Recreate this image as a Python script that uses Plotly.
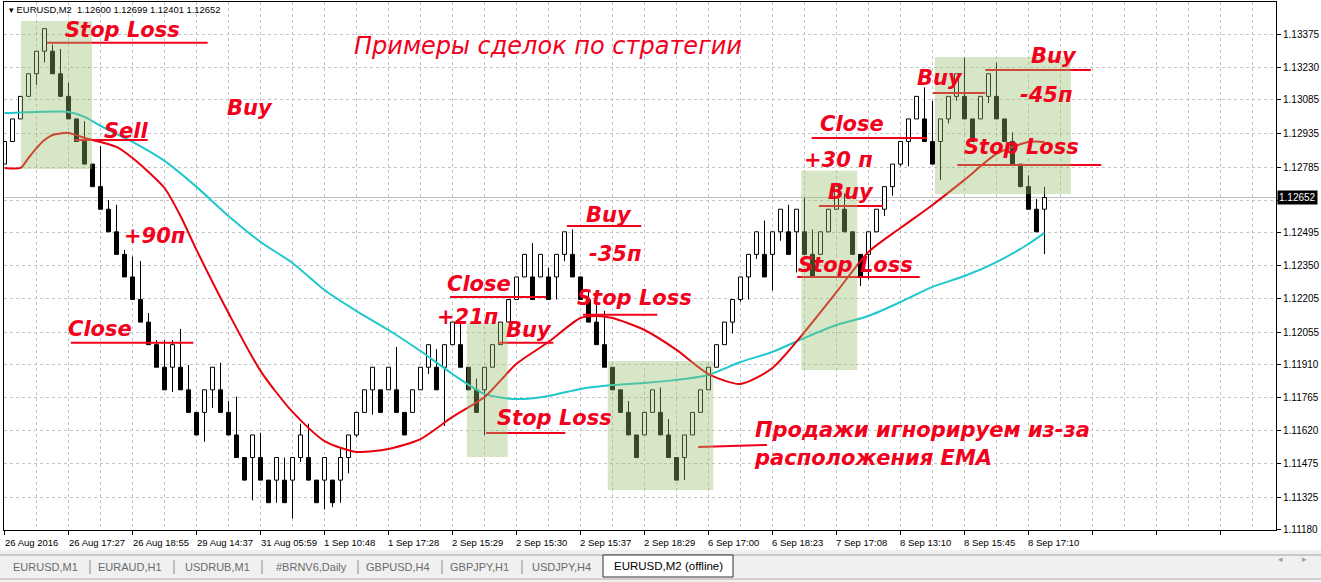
import plotly.graph_objects as go

# ---------------- data ----------------
opens = [1.128, 1.129, 1.130, 1.131, 1.132, 1.133, 1.133, 1.132, 1.131, 1.130,
         1.129, 1.128, 1.127, 1.126, 1.125, 1.124, 1.123, 1.122, 1.121, 1.120,
         1.119, 1.119, 1.119, 1.118, 1.117, 1.117, 1.118, 1.118, 1.117, 1.116,
         1.115, 1.115, 1.115, 1.114, 1.114, 1.114, 1.114, 1.115, 1.115, 1.114,
         1.114, 1.114, 1.114, 1.115, 1.116, 1.117, 1.118, 1.118, 1.118, 1.118,
         1.117, 1.117, 1.118, 1.119, 1.119, 1.119, 1.120, 1.120, 1.119, 1.118,
         1.118, 1.119, 1.120, 1.121, 1.122, 1.123, 1.123, 1.123, 1.123, 1.123,
         1.124, 1.124, 1.123, 1.122, 1.121, 1.120, 1.119, 1.118, 1.117, 1.116,
         1.116, 1.117, 1.117, 1.116, 1.115, 1.115, 1.116, 1.117, 1.118, 1.119,
         1.120, 1.121, 1.122, 1.123, 1.124, 1.124, 1.124, 1.125, 1.125, 1.125,
         1.125, 1.124, 1.124, 1.125, 1.126, 1.126, 1.125, 1.124, 1.124, 1.125,
         1.126, 1.127, 1.128, 1.129, 1.130, 1.130, 1.129, 1.129, 1.130, 1.131,
         1.131, 1.130, 1.130, 1.131, 1.131, 1.130, 1.129, 1.128, 1.127, 1.126,
         1.12600]
closes = [1.129, 1.130, 1.131, 1.132, 1.133, 1.134, 1.132, 1.131, 1.130, 1.129,
          1.128, 1.127, 1.126, 1.125, 1.124, 1.123, 1.122, 1.121, 1.120, 1.119,
          1.118, 1.120, 1.118, 1.117, 1.116, 1.118, 1.119, 1.117, 1.116, 1.115,
          1.114, 1.116, 1.114, 1.113, 1.115, 1.113, 1.115, 1.116, 1.114, 1.113,
          1.115, 1.113, 1.115, 1.116, 1.117, 1.118, 1.119, 1.117, 1.119, 1.117,
          1.116, 1.118, 1.119, 1.120, 1.118, 1.120, 1.121, 1.119, 1.118, 1.117,
          1.119, 1.120, 1.121, 1.122, 1.123, 1.124, 1.122, 1.124, 1.122, 1.124,
          1.125, 1.123, 1.122, 1.121, 1.120, 1.119, 1.118, 1.117, 1.116, 1.115,
          1.117, 1.118, 1.116, 1.115, 1.114, 1.116, 1.117, 1.118, 1.119, 1.120,
          1.121, 1.122, 1.123, 1.124, 1.125, 1.123, 1.125, 1.126, 1.124, 1.126,
          1.124, 1.123, 1.125, 1.126, 1.127, 1.125, 1.124, 1.123, 1.125, 1.126,
          1.127, 1.128, 1.129, 1.130, 1.131, 1.129, 1.128, 1.130, 1.131, 1.132,
          1.130, 1.129, 1.131, 1.132, 1.130, 1.129, 1.128, 1.127, 1.126, 1.125,
          1.12652]
highs = [1.129, 1.130, 1.131, 1.132, 1.133, 1.134, 1.1333, 1.1331, 1.1316, 1.130,
         1.1299, 1.128, 1.1288, 1.1264, 1.1262, 1.1242, 1.1239, 1.1237, 1.1214, 1.1202,
         1.1202, 1.1202, 1.1207, 1.1191, 1.117, 1.118, 1.119, 1.1192, 1.1175, 1.1177,
         1.115, 1.116, 1.1161, 1.114, 1.115, 1.1150, 1.115, 1.1165, 1.1165, 1.114,
         1.115, 1.114, 1.1154, 1.116, 1.117, 1.118, 1.119, 1.118, 1.119, 1.1199,
         1.117, 1.118, 1.119, 1.120, 1.1198, 1.120, 1.121, 1.121, 1.119, 1.1185,
         1.119, 1.120, 1.121, 1.122, 1.123, 1.124, 1.1245, 1.124, 1.1234, 1.124,
         1.125, 1.1251, 1.123, 1.1224, 1.122, 1.1215, 1.119, 1.118, 1.1175, 1.116,
         1.117, 1.118, 1.1181, 1.1167, 1.115, 1.116, 1.117, 1.118, 1.119, 1.120,
         1.121, 1.122, 1.123, 1.124, 1.125, 1.1255, 1.125, 1.126, 1.1262, 1.126,
         1.1265, 1.1251, 1.125, 1.126, 1.127, 1.1267, 1.125, 1.124, 1.125, 1.126,
         1.127, 1.128, 1.129, 1.130, 1.131, 1.1314, 1.1308, 1.130, 1.131, 1.132,
         1.1327, 1.130, 1.131, 1.132, 1.1325, 1.130, 1.1294, 1.128, 1.1275, 1.12645,
         1.12699]
lows = [1.128, 1.129, 1.130, 1.1312, 1.1315, 1.1325, 1.132, 1.131, 1.130, 1.129,
        1.128, 1.127, 1.126, 1.125, 1.124, 1.123, 1.122, 1.121, 1.120, 1.119,
        1.118, 1.1179, 1.118, 1.117, 1.116, 1.1157, 1.1172, 1.117, 1.116, 1.115,
        1.114, 1.1131, 1.114, 1.113, 1.113, 1.113, 1.1123, 1.1148, 1.114, 1.113,
        1.1127, 1.1128, 1.113, 1.1143, 1.1159, 1.117, 1.1169, 1.117, 1.118, 1.117,
        1.116, 1.117, 1.118, 1.1187, 1.118, 1.1164, 1.120, 1.119, 1.118, 1.117,
        1.116, 1.119, 1.120, 1.121, 1.122, 1.123, 1.122, 1.123, 1.122, 1.122,
        1.1237, 1.123, 1.122, 1.121, 1.120, 1.119, 1.118, 1.117, 1.116, 1.115,
        1.116, 1.117, 1.116, 1.115, 1.114, 1.114, 1.116, 1.117, 1.118, 1.119,
        1.120, 1.1205, 1.1219, 1.122, 1.1238, 1.123, 1.1224, 1.1246, 1.124, 1.1232,
        1.124, 1.123, 1.124, 1.125, 1.126, 1.125, 1.124, 1.1226, 1.1229, 1.125,
        1.1257, 1.1266, 1.1279, 1.1279, 1.130, 1.129, 1.128, 1.1273, 1.1298, 1.1308,
        1.130, 1.129, 1.130, 1.1307, 1.130, 1.129, 1.128, 1.127, 1.126, 1.125,
        1.12401]

ema_fast_idx = [0, 2, 3, 4, 5, 6, 8, 10, 12, 14, 16, 18, 20, 22, 24, 28, 32, 36, 40,
                44, 48, 52, 56, 60, 64, 68, 72, 74, 76, 80, 84, 88, 92, 96, 100,
                104, 108, 112, 116, 120, 124, 128, 130]
ema_fast = [1.12783, 1.12783, 1.12827, 1.12871, 1.12907, 1.12929, 1.12938, 1.12916,
            1.12898, 1.12876, 1.12827, 1.12765, 1.12694, 1.12570, 1.12420, 1.12140,
            1.11884, 1.11702, 1.11573, 1.11525, 1.11538, 1.11582, 1.11680, 1.11768,
            1.11915, 1.12012, 1.12118, 1.12127, 1.12118, 1.12065, 1.11977, 1.11870,
            1.11826, 1.11897, 1.12056, 1.12233, 1.12411, 1.12517, 1.12619, 1.12730,
            1.12845, 1.12898, 1.12898]

ema_slow_idx = [0, 4, 8, 10, 12, 16, 20, 24, 28, 32, 36, 40, 44, 48, 52, 56, 60, 64,
                68, 72, 76, 80, 84, 88, 92, 96, 100, 104, 108, 112, 116, 120, 124,
                128, 130]
ema_slow = [1.13026, 1.13031, 1.13031, 1.13009, 1.12969, 1.12898, 1.12814, 1.12699,
            1.12570, 1.12455, 1.12362, 1.12242, 1.12149, 1.12065, 1.11972, 1.11870,
            1.11782, 1.11759, 1.11773, 1.11804, 1.11821, 1.11830, 1.11844, 1.11866,
            1.11923, 1.11968, 1.12030, 1.12087, 1.12127, 1.12189, 1.12256, 1.12304,
            1.12366, 1.12446, 1.12495]

time_label_idx = [0, 8, 16, 24, 32, 40, 48, 56, 64, 72, 80, 88, 96, 104, 112, 120, 128]
time_labels = ["26 Aug 2016", "26 Aug 17:27", "26 Aug 18:55", "29 Aug 14:37",
               "31 Aug 05:59", "1 Sep 10:48", "1 Sep 17:28", "2 Sep 15:29",
               "2 Sep 15:30", "2 Sep 15:37", "2 Sep 18:29", "6 Sep 17:00",
               "6 Sep 18:23", "7 Sep 17:08", "8 Sep 13:10", "8 Sep 15:45",
               "8 Sep 17:10"]

price_ticks = [1.13375, 1.13230, 1.13085, 1.12935, 1.12785, 1.12640, 1.12495,
               1.12350, 1.12205, 1.12055, 1.11910, 1.11765, 1.11620, 1.11475,
               1.11325, 1.11180]
bid_price = 1.12652

tabs = ["EURUSD,M1", "EURAUD,H1", "USDRUB,M1", "#BRNV6,Daily", "GBPUSD,H4",
        "GBPJPY,H1", "USDJPY,H4"]
active_tab = "EURUSD,M2 (offline)"

# ---------------- geometry helpers (layout only) ----------------
W, H = 1321, 582
ML, MR, MT, MB = 4, 45, 2, 52
PW, PH = W - ML - MR, H - MT - MB


def px(xp):
    return (xp - ML) / PW


def py(yp):
    return (H - MB - yp) / PH


RED = "#f2001c"
idx = list(range(len(opens)))

fig = go.Figure()

# wicks (outside the bodies only)
wx, wy = [], []
for i, o, h, l, c in zip(idx, opens, highs, lows, closes):
    top, bot = max(o, c), min(o, c)
    if h > top:
        wx += [i, i, None]
        wy += [top, h, None]
    if l < bot:
        wx += [i, i, None]
        wy += [l, bot, None]
fig.add_trace(go.Scatter(x=wx, y=wy, mode="lines",
                         line=dict(color="black", width=1), hoverinfo="skip"))

up = [i for i in idx if closes[i] >= opens[i]]
dn = [i for i in idx if closes[i] < opens[i]]
fig.add_trace(go.Bar(x=up, y=[closes[i] - opens[i] for i in up],
                     base=[opens[i] for i in up], width=0.5,
                     marker=dict(color="white", line=dict(color="black", width=1))))
fig.add_trace(go.Bar(x=dn, y=[opens[i] - closes[i] for i in dn],
                     base=[closes[i] for i in dn], width=0.5,
                     marker=dict(color="black", line=dict(color="black", width=1))))

fig.add_trace(go.Scatter(x=ema_slow_idx, y=ema_slow, mode="lines",
                         line=dict(color="#1ec8cc", width=2, shape="spline", smoothing=0.7)))
fig.add_trace(go.Scatter(x=ema_fast_idx, y=ema_fast, mode="lines",
                         line=dict(color="#e8000c", width=2, shape="spline", smoothing=0.7)))

shapes = []
# bid line
shapes.append(dict(type="line", xref="paper", yref="y", x0=0, x1=1, y0=bid_price,
                   y1=bid_price, line=dict(color="#c0c0c0", width=1), layer="below"))

# user trend lines (candle index, price)
trend = [
    (5.3, 25.4, 1.13337, 1.13337), (8.8, 17.9, 1.12907, 1.12907),
    (8.3, 23.6, 1.12008, 1.12008), (55.7, 67.7, 1.12211, 1.12211),
    (61.7, 68.6, 1.12008, 1.12008), (60.2, 70.1, 1.11609, 1.11609),
    (70.3, 79.6, 1.12526, 1.12526), (72.3, 81.6, 1.12132, 1.12132),
    (86.7, 95.3, 1.11547, 1.11556), (99.1, 114.4, 1.12300, 1.12300),
    (101.8, 109.8, 1.12614, 1.12614), (100.9, 115.3, 1.12916, 1.12916),
    (116.1, 122.6, 1.13115, 1.13115), (122.6, 135.8, 1.13217, 1.13217),
    (119.1, 137.1, 1.12796, 1.12796),
]
for x0, x1, y0, y1 in trend:
    shapes.append(dict(type="line", xref="x", yref="y", x0=x0, x1=x1, y0=y0, y1=y1,
                       line=dict(color=RED, width=2), layer="above"))

# green rectangles
boxes = [(2.06, 10.94, 1.12778, 1.13434), (57.8, 62.9, 1.11502, 1.12096),
         (75.4, 88.6, 1.11356, 1.11928), (99.6, 106.6, 1.11888, 1.12770),
         (116.3, 133.3, 1.12668, 1.13274)]
for x0, x1, y0, y1 in boxes:
    shapes.append(dict(type="rect", xref="x", yref="y", x0=x0, x1=x1, y0=y0, y1=y1,
                       fillcolor="rgba(150,188,105,0.38)", line=dict(width=0),
                       layer="above"))

# tab bar
shapes.append(dict(type="rect", xref="paper", yref="paper", x0=px(0), x1=px(W),
                   y0=py(H), y1=py(550), fillcolor="#f0f0f0", line=dict(width=0)))
shapes.append(dict(type="line", xref="paper", yref="paper", x0=px(0), x1=px(W),
                   y0=py(555), y1=py(555), line=dict(color="#a0a0a0", width=1)))
shapes.append(dict(type="line", xref="paper", yref="paper", x0=px(0), x1=px(W),
                   y0=py(579), y1=py(579), line=dict(color="#b0b0b0", width=1)))
shapes.append(dict(type="rect", xref="paper", yref="paper", x0=px(603), x1=px(733),
                   y0=py(577), y1=py(555), fillcolor="white",
                   line=dict(color="#303030", width=1)))
seps = [90, 174, 262, 358, 442, 522]
for sx in seps:
    shapes.append(dict(type="line", xref="paper", yref="paper", x0=px(sx),
                       x1=px(sx), y0=py(560), y1=py(574),
                       line=dict(color="#8a8a8a", width=1)))

annotations = []
TXT = dict(family="DejaVu Sans", size=21, color=RED, weight="bold", style="italic")
texts = [
    ("Stop Loss", 14.7, 1.13394), ("Buy", 30.7, 1.13049), ("Sell", 15.2, 1.12947),
    ("+90п", 18.8, 1.12482), ("Close", 11.9, 1.12070), ("Buy", 75.6, 1.12575),
    ("-35п", 76.3, 1.12402), ("Close", 59.3, 1.12269), ("Stop Loss", 78.8, 1.12207),
    ("+21п", 57.9, 1.12123), ("Buy", 65.6, 1.12065), ("Stop Loss", 68.8, 1.11675),
    ("Close", 105.9, 1.12978), ("+30 п", 104.2, 1.12818), ("Buy", 105.8, 1.12676),
    ("Stop Loss", 106.4, 1.12353), ("Buy", 116.9, 1.13181), ("Buy", 131.2, 1.13279),
    ("-45п", 130.2, 1.13106), ("Stop Loss", 127.1, 1.12876),
]
for t, x, y in texts:
    annotations.append(dict(text=t, x=x, y=y, xref="x", yref="y", showarrow=False,
                            font=TXT, xanchor="center", yanchor="middle"))
annotations.append(dict(text="Примеры сделок по стратегии", x=67.9, y=1.13323,
                        xref="x", yref="y", showarrow=False,
                        font=dict(family="DejaVu Sans", size=24, color=RED,
                                  style="italic"),
                        xanchor="center", yanchor="middle"))
annotations.append(dict(text="Продажи игнорируем из-за", x=93.6, y=1.11622,
                        xref="x", yref="y", showarrow=False, font=TXT,
                        xanchor="left", yanchor="middle"))
annotations.append(dict(text="расположения EMA", x=93.5, y=1.11498,
                        xref="x", yref="y", showarrow=False, font=TXT,
                        xanchor="left", yanchor="middle"))

# header
annotations.append(dict(text="▾ EURUSD,M2  1.12600 1.12699 1.12401 1.12652",
                        x=px(7), y=py(10), xref="paper", yref="paper",
                        showarrow=False, xanchor="left", yanchor="middle",
                        font=dict(family="Liberation Sans", size=9.4, color="black")))
# bid price label
annotations.append(dict(text="1.12652", x=1, y=bid_price, xref="paper", yref="y",
                        xanchor="left", yanchor="middle", xshift=1, showarrow=False,
                        bgcolor="black", borderpad=1,
                        font=dict(family="Liberation Sans", size=10, color="white")))
# time labels
for k, lab in zip(time_label_idx, time_labels):
    annotations.append(dict(text=lab, x=k, y=py(542), xref="x", yref="paper",
                            xanchor="left", yanchor="middle", xshift=-2,
                            showarrow=False,
                            font=dict(family="Liberation Sans", size=9.5,
                                      color="black")))
# tabs
tab_centers = [45, 130, 217, 311, 398, 480, 561]
for t, cx in zip(tabs, tab_centers):
    annotations.append(dict(text=t, x=px(cx), y=py(567), xref="paper", yref="paper",
                            showarrow=False, xanchor="center", yanchor="middle",
                            font=dict(family="Liberation Sans", size=11,
                                      color="#6a6a6a")))
annotations.append(dict(text=active_tab, x=px(668), y=py(566), xref="paper",
                        yref="paper", showarrow=False, xanchor="center",
                        yanchor="middle",
                        font=dict(family="Liberation Sans", size=11.5, color="black")))
annotations.append(dict(text="◂", x=px(1285), y=py(567), xref="paper", yref="paper",
                        showarrow=False, font=dict(size=9, color="#a0a0a0")))
annotations.append(dict(text="▸", x=px(1309), y=py(567), xref="paper", yref="paper",
                        showarrow=False, font=dict(size=9, color="#a0a0a0")))

GRID = dict(showgrid=True, gridcolor="#c4c4c4", gridwidth=1, griddash="3px,3px")
fig.update_layout(
    width=W, height=H, margin=dict(l=ML, r=MR, t=MT, b=MB),
    paper_bgcolor="white", plot_bgcolor="white", showlegend=False,
    barmode="overlay", shapes=shapes, annotations=annotations,
    xaxis=dict(range=[-0.0625, 158.94], tick0=0, dtick=8, ticks="outside",
               ticklen=4, tickcolor="black", showticklabels=False,
               minor=dict(dtick=4, tick0=0, ticks="", **GRID),
               showline=True, linecolor="black", linewidth=1, mirror=True,
               zeroline=False, **GRID),
    yaxis=dict(side="right", range=[1.11179, 1.13518], tickmode="array",
               tickvals=price_ticks,
               ticktext=["" if abs(v - 1.12640) < 1e-9 else f"{v:.5f}"
                         for v in price_ticks],
               ticks="outside", ticklen=4, tickcolor="black",
               tickfont=dict(family="Liberation Sans", size=10, color="black"),
               showline=True, linecolor="black", linewidth=1, mirror=True,
               zeroline=False, **GRID),
)

fig.write_html("out.html", config={"displayModeBar": False},
               post_script="document.body.style.margin='0px';"
                           "document.body.style.overflow='hidden';")
